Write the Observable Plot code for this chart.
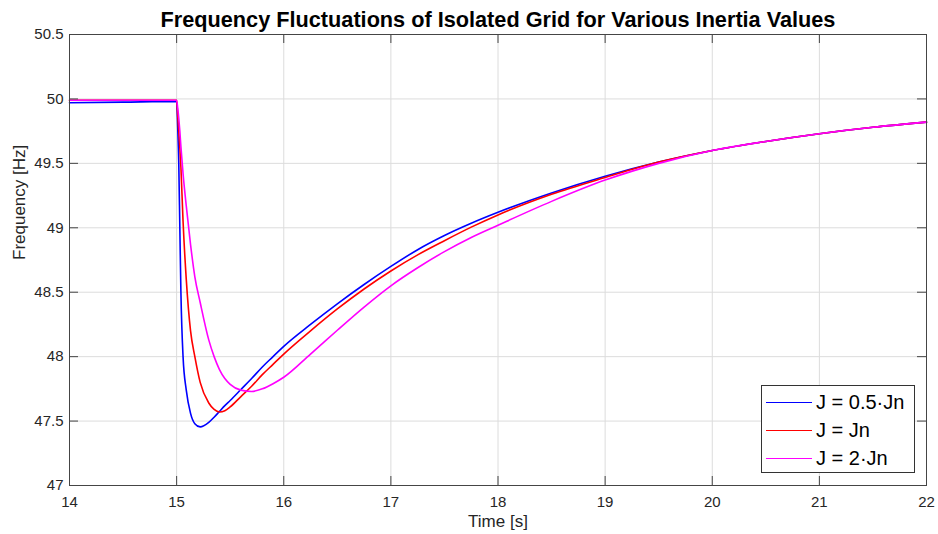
<!DOCTYPE html>
<html>
<head>
<meta charset="utf-8">
<script src="https://cdn.jsdelivr.net/npm/d3@7"></script>
<script src="https://cdn.jsdelivr.net/npm/@observablehq/plot@0.6"></script>
<style>
  html, body { margin: 0; padding: 0; background: #fff; }
  #wrap { position: relative; width: 938px; height: 534px; font-family: "Liberation Sans", Arial, Helvetica, sans-serif; }
  #legend { position: absolute; left: 761px; top: 385px; width: 152px; height: 86px; border: 1px solid #333; background: #fff; box-sizing: content-box; }
  .entry { position: absolute; left: 4px; height: 28px; display: flex; align-items: center; font-size: 20px; color: #000; white-space: nowrap; }
  .sw { width: 46px; height: 0; border-top: 1.5px solid; margin-right: 4px; }
</style>
</head>
<body>
<div id="wrap"></div>
<script>
const titleText = "Frequency Fluctuations of Isolated Grid for Various Inertia Values";
const xLabel = "Time [s]";
const yLabel = "Frequency [Hz]";
const seriesNames = ["J = 0.5·Jn", "J = Jn", "J = 2·Jn"];
const seriesColors = ["#0000ff", "#ff0000", "#ff00ff"];
const xTicks = [14, 15, 16, 17, 18, 19, 20, 21, 22];
const yTicks = [47, 47.5, 48, 48.5, 49, 49.5, 50, 50.5];

const times = [14, 14.5, 15, 15.01, 15.02, 15.03, 15.04, 15.06, 15.09, 15.13, 15.17, 15.22, 15.3, 15.35, 15.4, 15.45, 15.5, 15.6, 15.7, 15.8, 15.9, 16, 16.25, 16.5, 16.75, 17, 17.25, 17.5, 17.75, 18, 18.5, 19, 19.5, 20, 20.5, 21, 21.5, 22];
const fHalf = [49.97, 49.975, 49.98, 49.78, 49.5, 49.0, 48.5, 48.0, 47.74, 47.56, 47.48, 47.455, 47.49, 47.53, 47.575, 47.62, 47.66, 47.745, 47.83, 47.92, 48.0, 48.08, 48.25, 48.41, 48.56, 48.70, 48.83, 48.94, 49.035, 49.12, 49.27, 49.40, 49.51, 49.60, 49.67, 49.73, 49.78, 49.82];
const fNom = [49.99, 49.99, 49.99, 49.87, 49.75, 49.62, 49.47, 49.05, 48.6, 48.2, 48.0, 47.8, 47.64, 47.59, 47.57, 47.58, 47.61, 47.69, 47.77, 47.86, 47.94, 48.02, 48.2, 48.37, 48.525, 48.665, 48.79, 48.90, 49.005, 49.10, 49.26, 49.39, 49.51, 49.60, 49.67, 49.73, 49.78, 49.82];
const fDouble = [49.99, 49.99, 49.99, 49.93, 49.85, 49.75, 49.63, 49.42, 49.17, 48.87, 48.62, 48.42, 48.13, 48.0, 47.9, 47.83, 47.785, 47.74, 47.73, 47.75, 47.79, 47.84, 48.02, 48.205, 48.385, 48.55, 48.69, 48.815, 48.925, 49.02, 49.205, 49.37, 49.50, 49.60, 49.67, 49.73, 49.78, 49.82];

const allSeries = [fHalf, fNom, fDouble];
const rows = [];
allSeries.forEach((vals, si) => {
  times.forEach((t, i) => rows.push({ t, f: vals[i], s: seriesNames[si] }));
});

const W = 938, H = 534;
const mL = 69, mR = 12, mT = 34, mB = 49;
const fw = W - mL - mR, fh = H - mT - mB;
const tickLen = 9;
const font = '"Liberation Sans", Arial, Helvetica, sans-serif';

const chart = Plot.plot({
  width: W, height: H,
  marginLeft: mL, marginRight: mR, marginTop: mT, marginBottom: mB,
  style: { fontFamily: font, background: "#fff", overflow: "visible" },
  x: { domain: [14, 22] },
  y: { domain: [47, 50.5] },
  color: { domain: seriesNames, range: seriesColors },
  marks: [
    Plot.ruleX(xTicks, { x: d => d, stroke: "#dcdcdc", strokeWidth: 1 }),
    Plot.ruleY(yTicks, { y: d => d, stroke: "#dcdcdc", strokeWidth: 1 }),
    Plot.line(rows, { x: "t", y: "f", z: "s", stroke: "s", strokeWidth: 1.6, curve: "monotone-x" }),
    Plot.frame({ stroke: "#454545", strokeWidth: 1 }),
    Plot.ruleX(xTicks, { x: d => d, insetTop: fh - tickLen, stroke: "#454545" }),
    Plot.ruleX(xTicks, { x: d => d, insetBottom: fh - tickLen, stroke: "#454545" }),
    Plot.ruleY(yTicks, { y: d => d, insetRight: fw - tickLen, stroke: "#454545" }),
    Plot.ruleY(yTicks, { y: d => d, insetLeft: fw - tickLen, stroke: "#454545" }),
    Plot.axisX(xTicks, { tickSize: 0, tickPadding: 11, fontSize: 15, fill: "#262626", label: null, tickFormat: d => String(d) }),
    Plot.axisY(yTicks, { tickSize: 0, tickPadding: 6, fontSize: 15, fill: "#262626", label: null, tickFormat: d => String(d) }),
    Plot.text([xLabel], { frameAnchor: "bottom", dy: 41, fontSize: 17, fill: "#262626" }),
    Plot.text([yLabel], { frameAnchor: "left", dx: -50, rotate: -90, fontSize: 17, fill: "#262626" }),
    Plot.text([titleText], { frameAnchor: "top", dy: -23, fontSize: 21.7, fontWeight: "bold", fill: "#000" })
  ]
});

const wrap = document.getElementById("wrap");
wrap.appendChild(chart);

const legend = document.createElement("div");
legend.id = "legend";
seriesNames.forEach((name, i) => {
  const e = document.createElement("div");
  e.className = "entry";
  e.style.top = (2 + i * 28.3) + "px";
  const sw = document.createElement("span");
  sw.className = "sw";
  sw.style.borderTopColor = seriesColors[i];
  const tx = document.createElement("span");
  tx.textContent = name;
  e.appendChild(sw);
  e.appendChild(tx);
  legend.appendChild(e);
});
wrap.appendChild(legend);
</script>
</body>
</html>
